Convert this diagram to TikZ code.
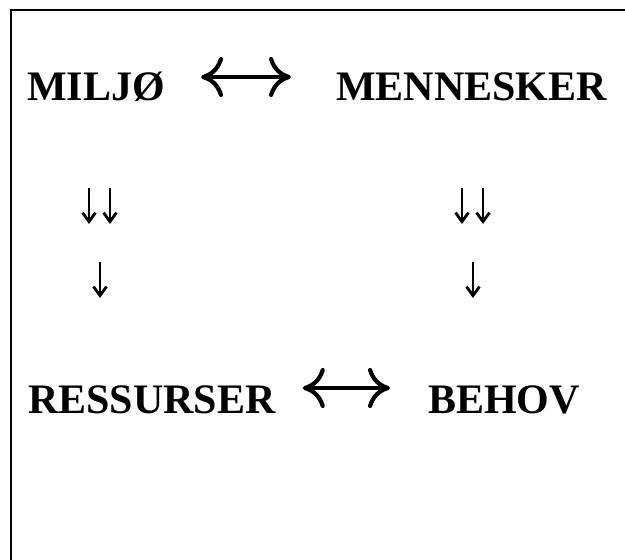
\documentclass[tikz,border=0pt]{standalone}
\usepackage{fontspec}
\setmainfont{Liberation Serif}
\usetikzlibrary{arrows.meta}
\begin{document}
\begin{tikzpicture}[x=1pt,y=-1pt,
  lbl/.style={inner sep=0pt, anchor=base west, font=\fontsize{42}{50}\selectfont\bfseries},
  dbl/.style={line width=3.2pt, {Computer Modern Rightarrow[length=22pt,width=40pt,line width=4.2pt]}-{Computer Modern Rightarrow[length=22pt,width=40pt,line width=4.2pt]}},
  dn/.style={line width=2pt, -{Straight Barb[length=9pt,width=13pt,line width=2.8pt]}}]
\useasboundingbox (0,0) rectangle (625,560);
\draw[line width=2pt] (11,560) -- (11,10) -- (625,10);
\node[lbl] (miljo) at (27,100) {MILJØ};
\node[lbl] (menn) at (336,100) {MENNESKER};
\node[lbl] (ress) at (28,413) {RESSURSER};
\node[lbl] (behov) at (428,413) {BEHOV};
\draw[dbl] ([xshift=36pt,yshift=23pt]miljo.base east) -- ([xshift=-45pt,yshift=23pt]menn.base west);
\draw[dbl] ([xshift=27pt,yshift=25pt]ress.base east) -- ([xshift=-38pt,yshift=25pt]behov.base west);
\foreach \n/\x/\ya/\yb in {a/89/188/224, b/110/188/224, c/100/262/298, d/462/188/224, e/483/188/224, f/473/262/298}{
  \coordinate (\n s) at (\x,\ya);
  \coordinate (\n e) at (\x,\yb);
  \draw[dn] (\n s) -- (\n e);
}
\end{tikzpicture}
\end{document}
